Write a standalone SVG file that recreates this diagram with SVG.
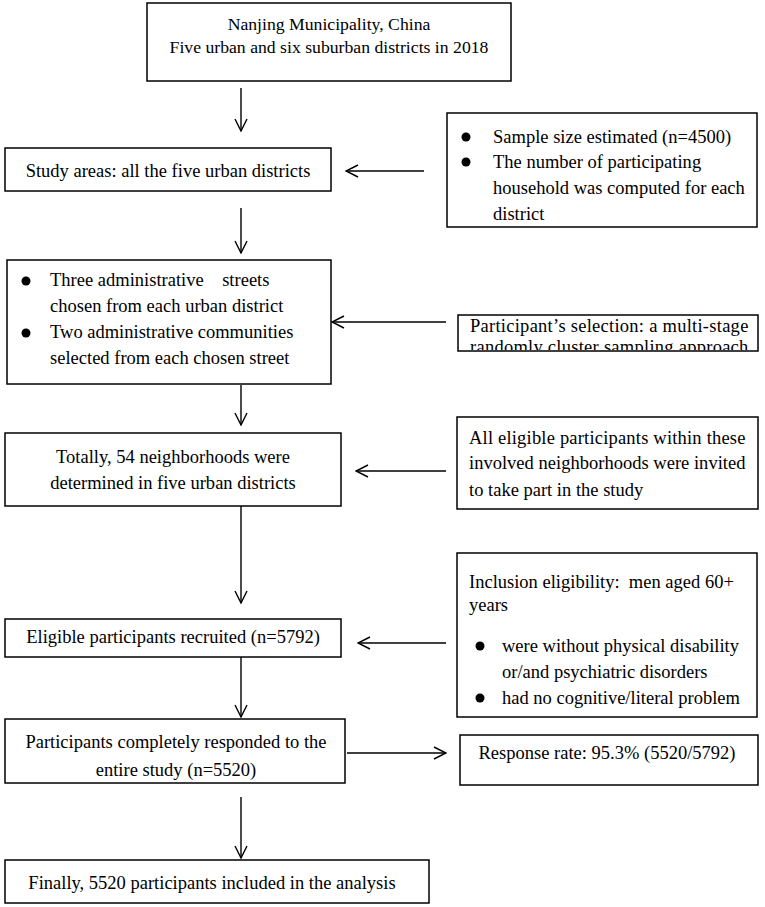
<svg xmlns="http://www.w3.org/2000/svg" width="765" height="907" viewBox="0 0 765 907">
<style>
.box{fill:#fff;stroke:#000;stroke-width:1.5}
.t{font-family:"Liberation Serif","Times New Roman",serif;font-size:19.5px;fill:#000}
.c{text-anchor:middle}
.h{font-size:17.7px}
.ln{stroke:#000;stroke-width:1.4;fill:none;marker-end:url(#ah)}
.dot{fill:#000}
</style>
<defs>
<marker id="ah" viewBox="0 0 14 14" refX="13" refY="7" markerWidth="14" markerHeight="14" markerUnits="userSpaceOnUse" orient="auto">
<path d="M1,1 L13,7 L1,13" fill="none" stroke="#000" stroke-width="1.4"/>
</marker>
<clipPath id="clipRB2"><rect x="458" y="315" width="300" height="35"/></clipPath>
</defs>
<rect width="765" height="907" fill="#fff"/>
<g id="connectors">
<line class="ln" x1="241" y1="88" x2="241" y2="131"/>
<line class="ln" x1="424" y1="171" x2="346" y2="171"/>
<line class="ln" x1="241" y1="208" x2="241" y2="253"/>
<line class="ln" x1="446" y1="322" x2="332" y2="322"/>
<line class="ln" x1="241" y1="385" x2="241" y2="425"/>
<line class="ln" x1="446" y1="471" x2="356" y2="471"/>
<line class="ln" x1="241" y1="506" x2="241" y2="603"/>
<line class="ln" x1="446" y1="643" x2="358" y2="643"/>
<line class="ln" x1="241" y1="657" x2="241" y2="717"/>
<line class="ln" x1="347" y1="753" x2="446" y2="753"/>
<line class="ln" x1="241" y1="797" x2="241" y2="858"/>
</g>
<g id="n1">
<rect class="box" x="147" y="3" width="364" height="78"/>
<text class="t c h" x="329" y="30">Nanjing Municipality, China</text>
<text class="t c h" x="329" y="53">Five urban and six suburban districts in 2018</text>
</g>
<g id="n2">
<rect class="box" x="5" y="148" width="326" height="43"/>
<text class="t c" transform="translate(168,177) scale(0.95,1)">Study areas: all the five urban districts</text>
</g>
<g id="rb1">
<rect class="box" x="447" y="113" width="310" height="114"/>
<circle class="dot" cx="466" cy="137" r="4.5"/>
<circle class="dot" cx="466" cy="162" r="4.5"/>
<text class="t" transform="translate(493,143) scale(0.95,1)">Sample size estimated (n=4500)</text>
<text class="t" transform="translate(493,168) scale(0.95,1)">The number of participating</text>
<text class="t" transform="translate(493,194) scale(0.95,1)">household was computed for each</text>
<text class="t" transform="translate(493,220) scale(0.95,1)">district</text>
</g>
<g id="n3">
<rect class="box" x="7" y="260" width="324" height="124"/>
<circle class="dot" cx="26" cy="281" r="4.5"/>
<circle class="dot" cx="26" cy="333" r="4.5"/>
<text class="t" transform="translate(50,286) scale(0.95,1)" xml:space="preserve">Three administrative    streets</text>
<text class="t" transform="translate(50,312) scale(0.95,1)">chosen from each urban district</text>
<text class="t" transform="translate(50,338) scale(0.95,1)">Two administrative communities</text>
<text class="t" transform="translate(50,364) scale(0.95,1)">selected from each chosen street</text>
</g>
<g id="rb2">
<rect class="box" x="458" y="315" width="300" height="36"/>
<g clip-path="url(#clipRB2)">
<text class="t" transform="translate(470,332) scale(0.95,1)" textLength="293" lengthAdjust="spacing">Participant’s selection: a multi-stage</text>
<text class="t" transform="translate(470,353) scale(0.95,1)" textLength="293" lengthAdjust="spacing">randomly cluster sampling approach</text>
</g>
</g>
<g id="n4">
<rect class="box" x="5" y="433" width="336" height="73"/>
<text class="t c" transform="translate(173,463) scale(0.95,1)">Totally, 54 neighborhoods were</text>
<text class="t c" transform="translate(173,489) scale(0.95,1)">determined in five urban districts</text>
</g>
<g id="rb3">
<rect class="box" x="457" y="417" width="301" height="92"/>
<text class="t" transform="translate(469,444) scale(0.95,1)" textLength="291" lengthAdjust="spacing">All eligible participants within these</text>
<text class="t" transform="translate(469,469) scale(0.95,1)" textLength="291" lengthAdjust="spacing">involved neighborhoods were invited</text>
<text class="t" transform="translate(469,496) scale(0.95,1)">to take part in the study</text>
</g>
<g id="n5">
<rect class="box" x="5" y="619" width="336" height="38"/>
<text class="t c" transform="translate(173,643) scale(0.95,1)">Eligible participants recruited (n=5792)</text>
</g>
<g id="rb4">
<rect class="box" x="457" y="553" width="300" height="164"/>
<text class="t" transform="translate(469,588) scale(0.95,1)" xml:space="preserve">Inclusion eligibility:  men aged 60+</text>
<text class="t" transform="translate(469,611) scale(0.95,1)">years</text>
<circle class="dot" cx="480" cy="646" r="4.5"/>
<circle class="dot" cx="480" cy="698" r="4.5"/>
<text class="t" transform="translate(502,652) scale(0.95,1)">were without physical disability</text>
<text class="t" transform="translate(502,678) scale(0.95,1)">or/and psychiatric disorders</text>
<text class="t" transform="translate(502,704) scale(0.95,1)">had no cognitive/literal problem</text>
</g>
<g id="n6">
<rect class="box" x="5" y="719" width="340" height="64"/>
<text class="t c" transform="translate(176,748) scale(0.95,1)">Participants completely responded to the</text>
<text class="t c" transform="translate(176,776) scale(0.95,1)">entire study (n=5520)</text>
</g>
<g id="rb5">
<rect class="box" x="460" y="735" width="298" height="50"/>
<text class="t c" transform="translate(607,759) scale(0.95,1)">Response rate: 95.3% (5520/5792)</text>
</g>
<g id="n7">
<rect class="box" x="5" y="860" width="424" height="43"/>
<text class="t c" transform="translate(212,889) scale(0.95,1)">Finally, 5520 participants included in the analysis</text>
</g>
</svg>
